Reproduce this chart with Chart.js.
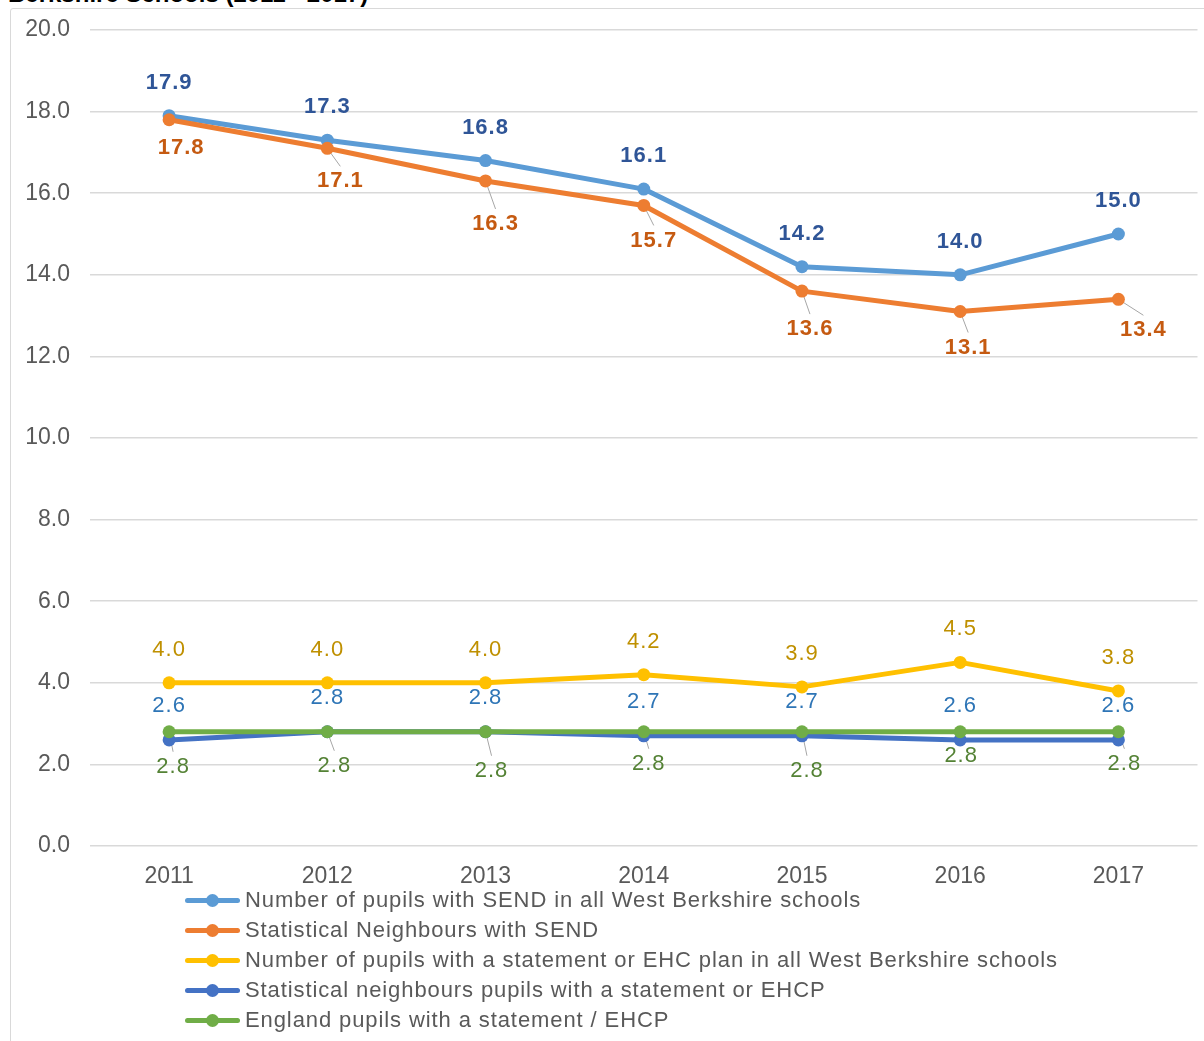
<!DOCTYPE html>
<html lang="en">
<head>
    <meta charset="UTF-8">
    <title>SEND pupils - West Berkshire Schools (2011 - 2017)</title>
    <script src="https://cdn.jsdelivr.net/npm/chart.js@4.4.1/dist/chart.umd.min.js"></script>
    <style>
        * {
            margin: 0;
            padding: 0;
            box-sizing: border-box;
            font-family: "Liberation Sans", Arial, sans-serif;
        }

        body {
            background: white;
            width: 1204px;
            height: 1041px;
            overflow: hidden;
            position: relative;
        }

        .title {
            position: absolute;
            left: 8px;
            top: -18px;
            font-size: 24px;
            line-height: 24px;
            font-weight: bold;
            color: #000;
            white-space: nowrap;
        }

        .frame {
            position: absolute;
            left: 10px;
            top: 8px;
            width: 1300px;
            height: 1100px;
            border: 1px solid #d9d9d9;
            border-radius: 3px;
        }

        .chart-box {
            position: absolute;
            left: 0;
            top: 0;
            width: 1204px;
            height: 890px;
        }

        .legend {
            position: absolute;
            left: 185px;
            top: 885px;
        }

        .legend-item {
            display: flex;
            align-items: center;
            height: 30px;
            color: #595959;
            font-size: 22px;
            letter-spacing: 0.9px;
            white-space: nowrap;
        }

        .legend-mark {
            position: relative;
            width: 55px;
            height: 5px;
            margin-right: 5px;
            border-radius: 3px;
        }

        .legend-mark span {
            position: absolute;
            left: 21px;
            top: -4px;
            width: 13px;
            height: 13px;
            border-radius: 50%;
        }
    </style>
</head>
<body>
    <div class="title">Berkshire Schools (2011 - 2017)</div>
    <div class="frame"></div>
    <div class="chart-box">
        <canvas id="sendChart"></canvas>
    </div>
    <div class="legend" id="legend"></div>

    <script>
        const years = ['2011', '2012', '2013', '2014', '2015', '2016', '2017'];

        // percentages of pupils
        const sendWestBerks = [17.9, 17.3, 16.8, 16.1, 14.2, 14.0, 15.0];
        const sendNeighbours = [17.8, 17.1, 16.3, 15.7, 13.6, 13.1, 13.4];
        const ehcpWestBerks = [4.0, 4.0, 4.0, 4.2, 3.9, 4.5, 3.8];
        const ehcpNeighbours = [2.6, 2.8, 2.8, 2.7, 2.7, 2.6, 2.6];
        const ehcpEngland = [2.8, 2.8, 2.8, 2.8, 2.8, 2.8, 2.8];

        const seriesNames = [
            'Number of pupils with SEND in all West Berkshire schools',
            'Statistical Neighbours with SEND',
            'Number of pupils with a statement or EHC plan in all West Berkshire schools',
            'Statistical neighbours pupils with a statement or EHCP',
            'England pupils with a statement / EHCP'
        ];

        const axisFont = { size: 23, family: '"Liberation Sans", Arial, sans-serif' };

        function series(i, data, color, order, label) {
            return {
                label: seriesNames[i],
                data: data,
                borderColor: color,
                backgroundColor: color,
                borderWidth: 5,
                pointRadius: 6.5,
                pointHoverRadius: 6.5,
                pointBorderWidth: 0,
                borderJoinStyle: 'round',
                borderCapStyle: 'round',
                tension: 0,
                order: order,
                valueLabel: label
            };
        }

        // value labels next to each point; moved labels get a grey leader line
        const valueLabels = {
            id: 'valueLabels',
            beforeDatasetsDraw(chart) {
                const ctx = chart.ctx;
                ctx.save();
                ctx.strokeStyle = '#a6a6a6';
                ctx.lineWidth = 1;
                chart.data.datasets.forEach((ds, i) => {
                    const lbl = ds.valueLabel;
                    if (!lbl.offsets) return;
                    chart.getDatasetMeta(i).data.forEach((pt, j) => {
                        const off = lbl.offsets[j];
                        if (Math.hypot(off[0], off[1]) < 31) return;
                        ctx.beginPath();
                        ctx.moveTo(pt.x, pt.y);
                        ctx.lineTo(pt.x + off[0], pt.y + off[1] - 15);
                        ctx.stroke();
                    });
                });
                ctx.restore();
            },
            afterDatasetsDraw(chart) {
                const ctx = chart.ctx;
                ctx.save();
                ctx.textAlign = 'center';
                ctx.textBaseline = 'middle';
                ctx.letterSpacing = '1px';
                chart.data.datasets.forEach((ds, i) => {
                    const lbl = ds.valueLabel;
                    ctx.fillStyle = lbl.color;
                    ctx.font = (lbl.bold ? 'bold ' : '') + '22px "Liberation Sans", Arial, sans-serif';
                    chart.getDatasetMeta(i).data.forEach((pt, j) => {
                        const off = lbl.offsets ? lbl.offsets[j] : [0, lbl.dy];
                        ctx.fillText(ds.data[j].toFixed(1), pt.x + off[0], pt.y + off[1]);
                    });
                });
                ctx.restore();
            }
        };

        const datasets = [
            series(0, sendWestBerks, '#5b9bd5', 5, { color: '#2f5597', bold: true, dy: -33 }),
            series(1, sendNeighbours, '#ed7d31', 4, {
                color: '#c55a11', bold: true,
                offsets: [[12, 28], [13, 33], [10, 43], [10, 35], [8, 38], [8, 36], [25, 31]]
            }),
            series(2, ehcpWestBerks, '#ffc000', 3, { color: '#bf9000', bold: false, dy: -33 }),
            series(3, ehcpNeighbours, '#4472c4', 2, { color: '#2e75b6', bold: false, dy: -34 }),
            series(4, ehcpEngland, '#70ad47', 1, {
                color: '#548235', bold: false,
                offsets: [[4, 35], [7, 34], [6, 39], [5, 32], [5, 39], [1, 24], [6, 32]]
            })
        ];

        const sendChart = new Chart(document.getElementById('sendChart'), {
            type: 'line',
            data: { labels: years, datasets: datasets },
            options: {
                responsive: true,
                maintainAspectRatio: false,
                animation: false,
                layout: { padding: { top: 30, right: 4, left: 0, bottom: 0 } },
                plugins: {
                    legend: { display: false },
                    tooltip: { enabled: false }
                },
                scales: {
                    x: {
                        offset: true,
                        grid: { display: false },
                        border: { display: false },
                        ticks: { color: '#595959', padding: 9, font: axisFont },
                        afterFit(scale) { scale.height = 44; }
                    },
                    y: {
                        min: 0,
                        max: 20,
                        grid: { color: '#d9d9d9', lineWidth: 1.5, drawTicks: false },
                        border: { display: false },
                        ticks: {
                            stepSize: 2,
                            color: '#595959',
                            padding: 20,
                            font: axisFont,
                            callback: v => v.toFixed(1)
                        },
                        afterFit(scale) {
                            scale.width = 90;
                            // tick padding should not push the plot area down
                            scale.paddingTop = 0;
                            scale.paddingBottom = 0;
                        }
                    }
                }
            },
            plugins: [valueLabels]
        });

        // legend, one series per row
        const legend = document.getElementById('legend');
        datasets.forEach(ds => {
            const row = document.createElement('div');
            row.className = 'legend-item';
            row.innerHTML = '<div class="legend-mark" style="background:' + ds.borderColor + '">' +
                '<span style="background:' + ds.borderColor + '"></span></div>' + ds.label;
            legend.appendChild(row);
        });
    </script>
</body>
</html>
